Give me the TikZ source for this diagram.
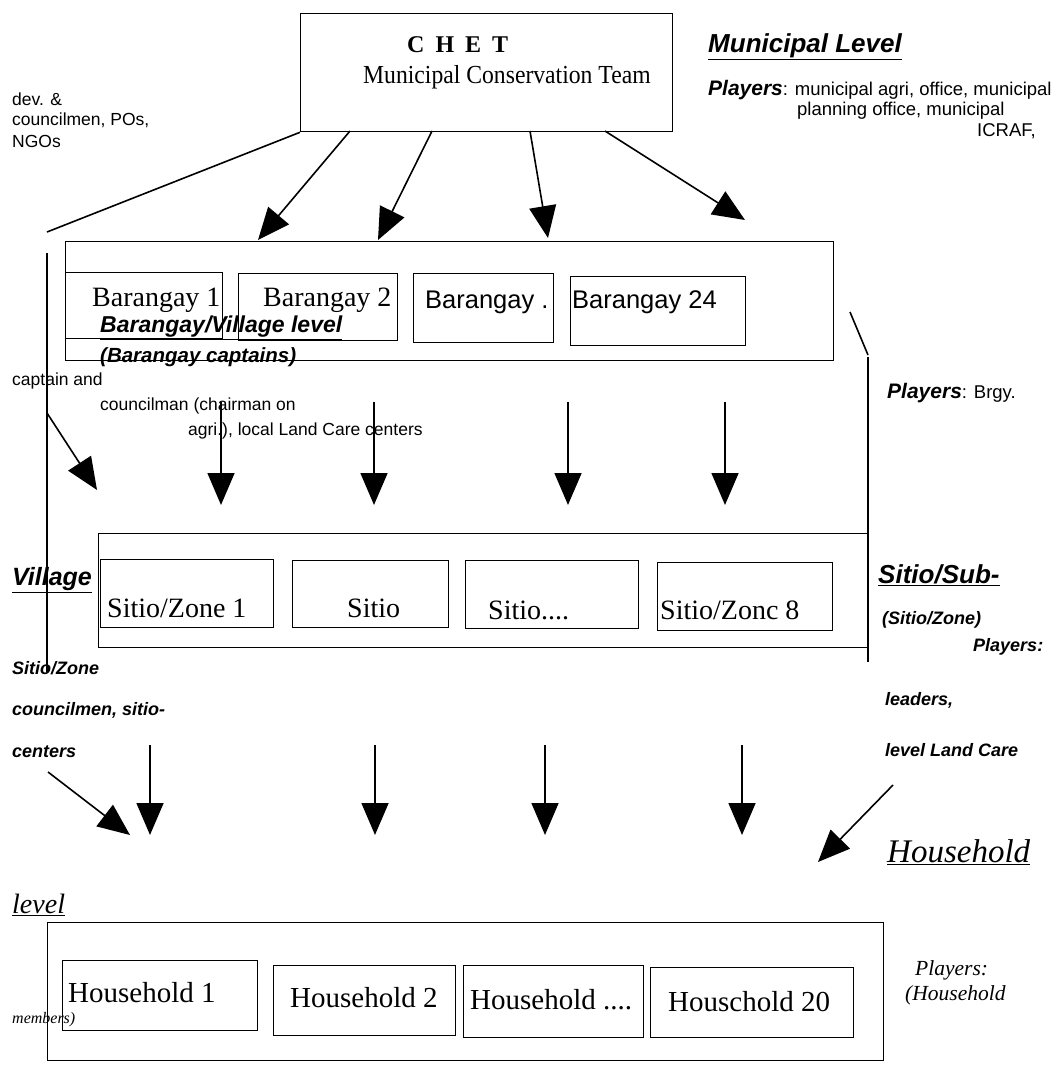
\documentclass[tikz,border=0pt]{standalone}
\usepackage{fontspec}
\setmainfont{Liberation Serif}
\newfontfamily\sansf{Liberation Sans}
\newfontfamily\serifn[FakeStretch=0.91]{Liberation Serif}
\usetikzlibrary{arrows.meta}
\tikzset{
  bx/.style={draw, line width=1.3pt, inner sep=0, anchor=north west},
  arr/.style={line width=1.6pt, -{Triangle[length=32pt,width=27pt]}},
  ln/.style={line width=1.6pt},
  txt/.style={inner sep=0, anchor=west},
  boxtxt/.style={txt, font=\fontsize{28}{28}\selectfont},
  boxtxts/.style={txt, font=\sansf\fontsize{25.5}{25.5}\selectfont},
  hhtxt/.style={txt, font=\fontsize{29}{29}\selectfont},
  small/.style={txt, font=\sansf\fontsize{17.5}{17.5}\selectfont},
  smallr/.style={txt, font=\sansf\fontsize{18.5}{18.5}\selectfont},
  head/.style={txt, font=\sansf\bfseries\itshape\fontsize{26}{26}\selectfont},
  ital/.style={txt, font=\sansf\bfseries\itshape\fontsize{18}{18}\selectfont},
  pl/.style={txt, font=\sansf\bfseries\itshape\fontsize{18}{18}\selectfont},
  hhead/.style={txt, font=\itshape\fontsize{33}{33}\selectfont},
  hital/.style={txt, font=\itshape\fontsize{21.5}{21.5}\selectfont},
}
\newcommand{\plw}[1]{{\sansf\bfseries\itshape\fontsize{21}{21}\selectfont #1}}
\begin{document}
\begin{tikzpicture}[x=1pt,y=-1pt]
\useasboundingbox (0,0) rectangle (1057,1066);
% ---- boxes
\node[bx, minimum width=372pt, minimum height=118pt] (chet) at (300,13) {};
\node[bx, minimum width=768pt, minimum height=119pt] (bgy) at (65,241) {};
\node[bx, minimum width=157pt, minimum height=66pt] (b1) at (65,272) {};
\node[bx, minimum width=159pt, minimum height=67pt] (b2) at (238,273) {};
\node[bx, minimum width=140pt, minimum height=69pt] (b3) at (413,273) {};
\node[bx, minimum width=175pt, minimum height=69pt] (b4) at (570,276) {};
\node[bx, minimum width=769pt, minimum height=114pt] (sit) at (98,533) {};
\node[bx, minimum width=173pt, minimum height=68pt] (s1) at (100,559) {};
\node[bx, minimum width=156pt, minimum height=67pt] (s2) at (292,560) {};
\node[bx, minimum width=173pt, minimum height=68pt] (s3) at (465,560) {};
\node[bx, minimum width=175pt, minimum height=68pt] (s4) at (657,562) {};
\node[bx, minimum width=836pt, minimum height=138pt] (hh) at (47,922) {};
\node[bx, minimum width=195pt, minimum height=70pt] (h1) at (62,960) {};
\node[bx, minimum width=182pt, minimum height=70pt] (h2) at (273,965) {};
\node[bx, minimum width=180pt, minimum height=72pt] (h3) at (463,965) {};
\node[bx, minimum width=203pt, minimum height=70pt] (h4) at (650,967) {};
% ---- box texts
\node[txt, font=\bfseries\fontsize{24}{24}\selectfont] (chett) at (407,45) {C\hspace{11pt}H\hspace{11pt}E\hspace{11pt}T};
\node[txt, font=\serifn\fontsize{26}{26}\selectfont] (mct) at (363,77) {Municipal Conservation Team};
\node[boxtxt] (b1t) at (92,300) {Barangay 1};
\node[boxtxt] (b2t) at (263,300) {Barangay 2};
\node[boxtxts] (b3t) at (425,302) {Barangay .};
\node[boxtxts] (b4t) at (572,302) {Barangay 24};
\node[boxtxt] (s1t) at (107,608) {Sitio/Zone 1};
\node[boxtxt] (s2t) at (347,608) {Sitio};
\node[boxtxt] (s3t) at (488,610) {Sitio....};
\node[boxtxt] (s4t) at (660,610) {Sitio/Zonc 8};
\node[hhtxt] (h1t) at (68,993) {Household 1};
\node[hhtxt] (h2t) at (290,998) {Household 2};
\node[hhtxt] (h3t) at (470,1000) {Household ....};
\node[hhtxt] (h4t) at (668,1002) {Houschold 20};
% ---- labels
\node[head] (ml) at (708,47) {\underline{Municipal Level}};
\node[smallr] (mp1) at (708,90) {\plw{Players}: municipal agri, office, municipal};
\node[smallr] (mp2) at (797,111) {planning office, municipal};
\node[smallr] (mp3) at (977,131) {ICRAF,};
\node[small] (d1) at (12,99) {dev. \&};
\node[small] (d2) at (12,120) {councilmen, POs,};
\node[small] (d3) at (12,141) {NGOs};
\node[head, font=\sansf\bfseries\itshape\fontsize{23}{23}\selectfont] (bvl) at (100,328) {\underline{Barangay/Village level}};
\node[txt, font=\sansf\bfseries\itshape\fontsize{20.5}{20.5}\selectfont] (bc) at (100,357) {(Barangay captains)};
\node[smallr] (pb) at (887,393) {\plw{Players}: Brgy.};
\node[small] (c1) at (12,381) {captain and};
\node[small] (c2) at (100,406) {councilman (chairman on};
\node[small] (c3) at (188,431) {agri.), local Land Care centers};
\node[head, font=\sansf\bfseries\itshape\fontsize{25}{25}\selectfont] (vil) at (12,580) {\underline{Village}};
\node[head] (ssub) at (878,575) {\underline{Sitio/Sub-}};
\node[ital] (sz) at (882,620) {(Sitio/Zone)};
\node[pl] (ps) at (973,647) {Players:};
\node[ital] (lead) at (885,700) {leaders,};
\node[ital] (llc) at (885,750) {level Land Care};
\node[ital] (szl) at (12,668) {Sitio/Zone};
\node[ital] (cs) at (12,710) {councilmen, sitio-};
\node[ital] (cen) at (12,752) {centers};
\node[hhead] (hl) at (887,852) {\underline{Household}};
\node[hhead, font=\itshape\fontsize{28}{28}\selectfont] (lv) at (12,905) {\underline{level}};
\node[hital] (ph) at (915,970) {Players:};
\node[hital] (hm) at (905,995) {(Household};
\node[txt, font=\itshape\fontsize{16}{16}\selectfont] (mem) at (12,1020) {members)};
% ---- coordinates
\coordinate (lt) at (47,232);
\coordinate (lvtop) at (47,253);
\coordinate (lvbot) at (47,672);
\coordinate (la) at (47,413);
\coordinate (lat) at (97,490);
\coordinate (rs1) at (850,312);
\coordinate (rs2) at (868,355);
\coordinate (rvtop) at (868,357);
\coordinate (rvbot) at (868,662);
\foreach \i/\sx/\tx/\ty in {1/350/258/240, 2/432/378/240, 3/530/548/238, 4/605/745/220}{
  \coordinate (cs\i) at (\sx,131);
  \coordinate (ct\i) at (\tx,\ty);
}
\foreach \i/\xx in {1/221, 2/374, 3/568, 4/725}{
  \coordinate (bs\i) at (\xx,402);
  \coordinate (bt\i) at (\xx,505);
}
\foreach \i/\xx in {1/150, 2/375, 3/545, 4/742}{
  \coordinate (ss\i) at (\xx,745);
  \coordinate (st\i) at (\xx,835);
}
\coordinate (hl1) at (48,772);
\coordinate (hl2) at (130,835);
\coordinate (hr1) at (893,785);
\coordinate (hr2) at (818,862);
% ---- connectors
\draw[ln] (chet.south west) -- (lt);
\draw[ln] (lvtop) -- (lvbot);
\draw[arr] (la) -- (lat);
\draw[ln] (rs1) -- (rs2);
\draw[ln] (rvtop) -- (rvbot);
\foreach \i in {1,2,3,4}{
  \draw[arr] (cs\i) -- (ct\i);
  \draw[arr] (bs\i) -- (bt\i);
  \draw[arr] (ss\i) -- (st\i);
}
\draw[arr] (hl1) -- (hl2);
\draw[arr] (hr1) -- (hr2);
\end{tikzpicture}
\end{document}
